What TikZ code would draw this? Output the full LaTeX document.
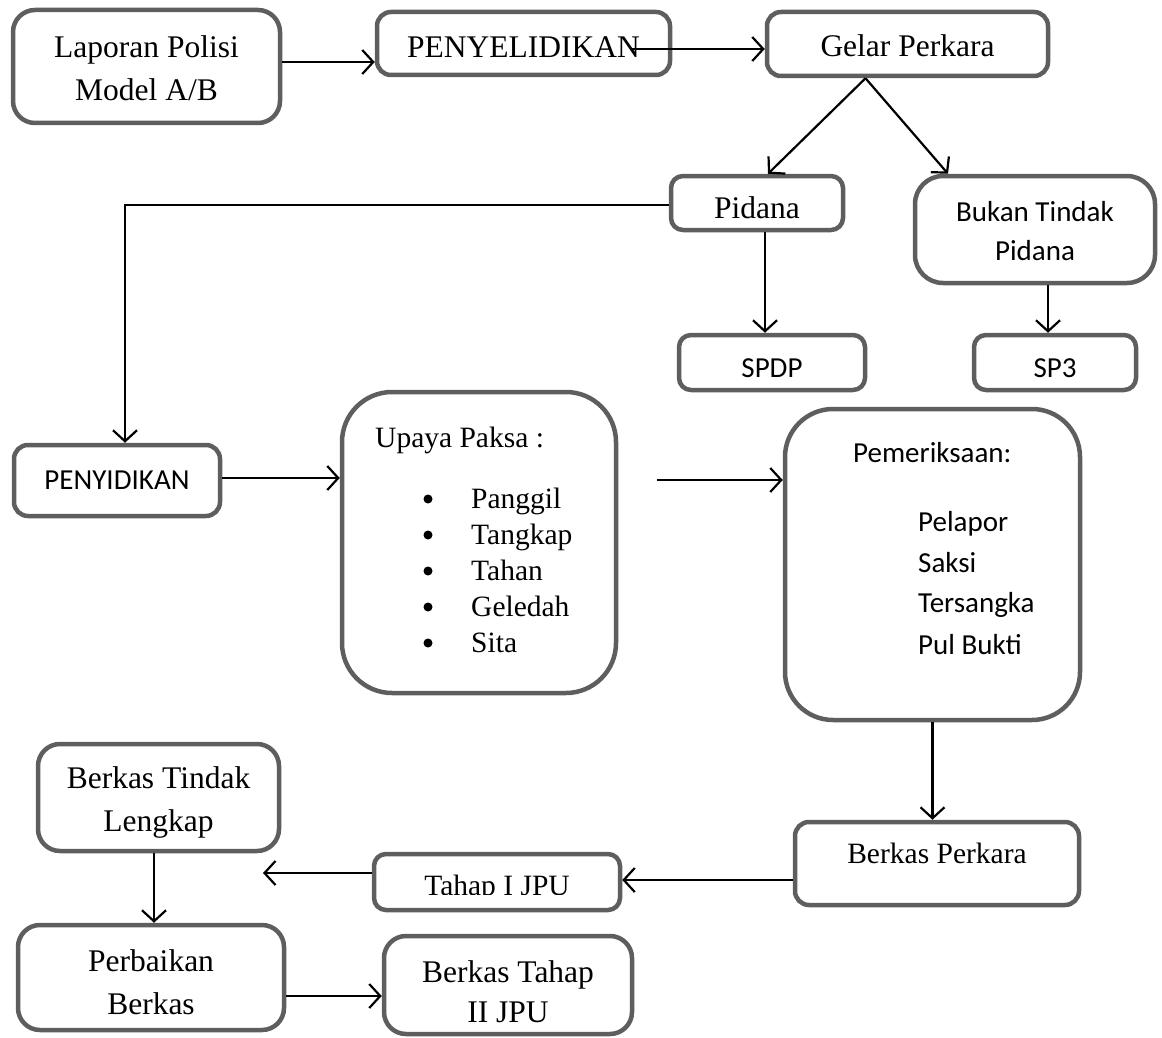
\documentclass[tikz,border=0pt]{standalone}
\usepackage{fontspec}
\setmainfont{Liberation Serif}
\newfontfamily\calfont{Carlito}
\usetikzlibrary{arrows.meta,calc}
\definecolor{bordergray}{HTML}{5E5E5E}
\newcommand\tmsize{\fontsize{31.5}{43}\selectfont}
\newcommand\tmsmall{\fontsize{29.5}{36}\selectfont}
\newcommand\cbsize{\calfont\fontsize{29}{39}\selectfont}
\begin{document}
\begin{tikzpicture}[x=1pt,y=-1pt,
  box/.style={draw=bordergray, line width=4.5pt, rounded corners=14pt, fill=white, inner sep=0pt, align=center, font=\tmsize},
  cbox/.style={box, font=\cbsize},
  arr/.style={line width=2.2pt, -{Straight Barb[length=11pt,width=24pt]}},
  tl/.style={inner sep=0pt, anchor=west, text height=20pt, text depth=0pt, font=\tmsmall},
  cl/.style={inner sep=0pt, anchor=west, text height=18.5pt, text depth=0pt, font=\cbsize},
  dot/.style={circle, fill=black, inner sep=0pt, minimum size=9pt}]
\useasboundingbox (0,0) rectangle (1162,1038);

% top row
\node[box, rounded corners=22pt, minimum width=267pt, minimum height=113pt, text height=68.5pt] (lap) at (146.5,66.5) {Laporan Polisi\\Model A/B};
\node[box, minimum width=293pt, minimum height=63pt, text height=29pt, text depth=0pt] (pyl) at (523.5,43.5) {PENYELIDIKAN};
\node[box, minimum width=281pt, minimum height=64pt, text height=26pt, text depth=0pt] (gel) at (907.5,44) {Gelar Perkara};

% second row
\node[box, rounded corners=12pt, minimum width=172pt, minimum height=54pt, text height=30pt, text depth=0pt] (pid) at (757,203) {Pidana};
\node[cbox, rounded corners=28pt, minimum width=240pt, minimum height=107pt, text height=63pt] (buk) at (1035,229.5) {Bukan Tindak\\Pidana};
\node[cbox, rounded corners=12pt, minimum width=186pt, minimum height=55pt, text height=29pt, text depth=0pt] (spdp) at (772,362.5) {SPDP};
\node[cbox, rounded corners=12pt, minimum width=162pt, minimum height=55pt, text height=29pt, text depth=0pt] (sp3) at (1055,362.5) {SP3};

% middle row
\node[cbox, minimum width=206pt, minimum height=71pt] (pyd) at (117,480.5) {PENYIDIKAN};
\node[box, rounded corners=50pt, minimum width=274pt, minimum height=301pt] (upa) at (479,542.5) {};
\node[box, rounded corners=48pt, minimum width=295pt, minimum height=311pt] (pem) at (932.5,564.5) {};

\node[tl] (upt) at (375,437) {Upaya Paksa :};
\foreach \t/\yy/\n in {Panggil/498/a, Tangkap/534/b, Tahan/570/c, Geledah/606/d, Sita/642/e}{
  \node[dot] (bul\n) at (428,\yy+1) {};
  \node[tl] (itm\n) at (471,\yy) {\t};
}

\node[cl] (pemt) at (853,453) {Pemeriksaan:};
\node[cl] (pa1) at (918,522) {Pelapor};
\node[cl] (pa2) at (918,563) {Saksi};
\node[cl] (pa3) at (918,603) {Tersangka};
\node[cl] (pa4) at (918,645) {Pul Bukti};

% bottom rows
\node[box, minimum width=284pt, minimum height=83pt] (bkp) at (937,863.5) {};
\node[tl, anchor=center] (bkpt) at (937,853) {Berkas Perkara};
\node[box, rounded corners=12pt, minimum width=246pt, minimum height=56pt] (tah) at (497,882) {};
\begin{scope}
  \clip (tah.north west) rectangle (tah.east |- 0,894);
  \node[tl, anchor=center] (taht) at (497,885.5) {Tahap I JPU};
\end{scope}
\node[box, rounded corners=22pt, minimum width=241pt, minimum height=107pt, text height=74.5pt] (btl) at (158.5,797.5) {Berkas Tindak\\Lengkap};
\node[box, rounded corners=22pt, minimum width=266pt, minimum height=105pt, text height=73.5pt] (prb) at (151,977.5) {Perbaikan\\Berkas};
\node[box, rounded corners=22pt, minimum width=248pt, minimum height=98pt, text height=74.5pt, font=\fontsize{31.5}{40}\selectfont] (bt2) at (508,985) {Berkas Tahap\\II JPU};

% connectors
\draw[arr] ([yshift=4.5pt]lap.east) -- ([yshift=4.5pt]lap.east -| pyl.west);
\coordinate (ps) at (630,49);
\draw[arr] (ps) -- (ps -| gel.west);
\coordinate (gs) at ($(gel.south)+(-42,0)$);
\draw[arr] (gs) -- ([xshift=11pt]pid.north);
\draw[arr] (gs) -- ([xshift=-87pt]buk.north);
\draw[arr] ([yshift=-2pt]pid.west) -| ([xshift=8pt]pyd.north);
\draw[arr] ([xshift=8pt]pid.south) -- ([xshift=8pt]pid.south |- spdp.north);
\draw[arr] ([xshift=13pt]buk.south) -- ([xshift=13pt]buk.south |- sp3.north);
\draw[arr] ([yshift=2.5pt]pyd.east) -- ([yshift=2.5pt]pyd.east -| upa.west);
\coordinate (pa) at (657,480);
\draw[arr] (pa) -- (pa -| pem.west);
\draw[arr] (pem.south) -- (pem.south |- bkp.north);
\draw[arr] ([yshift=-16.5pt]bkp.west) -- ([yshift=-16.5pt]bkp.west -| tah.east);
\coordinate (tl) at (263,873);
\draw[arr] (tl -| tah.west) -- (tl);
\draw[arr] ([xshift=-4.5pt]btl.south) -- ([xshift=-4.5pt]btl.south |- prb.north);
\draw[arr] ([yshift=-18.5pt]prb.east) -- ([yshift=-18.5pt]prb.east -| bt2.west);
\end{tikzpicture}
\end{document}
